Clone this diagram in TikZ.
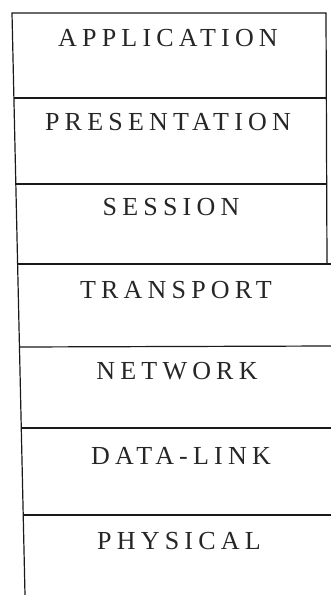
\documentclass[tikz,border=0pt]{standalone}
\usepackage{fontspec}
\setmainfont{Liberation Serif}[LetterSpace=20]
\begin{document}
\begin{tikzpicture}[x=1pt,y=-1pt,
  rule/.style={line width=1.2pt,black!90},
  layer/.style={inner sep=0pt,text=black!85,font=\fontsize{26}{30}\selectfont,anchor=center}]
\useasboundingbox (0,0) rectangle (331,595);
% corner and rule coordinates
\coordinate (tl) at (12,13);
\coordinate (tr) at (326,13);
\coordinate (rb) at (327,264);
\coordinate (bl) at (25,595);
\coordinate (l1) at (13.9,98);   \coordinate (r1) at (326.5,98);
\coordinate (l2) at (15.8,184);  \coordinate (r2) at (327,184);
\coordinate (l3) at (17.6,264);  \coordinate (r3) at (331,264);
\coordinate (l4) at (19.5,347);  \coordinate (r4) at (331,346);
\coordinate (l5) at (21.3,428);  \coordinate (r5) at (331,428);
\coordinate (l6) at (23.3,515);  \coordinate (r6) at (331,515);
% frame
\draw[rule] (bl) -- (tl) -- (tr) -- (rb);
\draw[rule] (l1) -- (r1);
\draw[rule] (l2) -- (r2);
\draw[rule] (l3) -- (r3);
\draw[rule] (l4) -- (r4);
\draw[rule] (l5) -- (r5);
\draw[rule] (l6) -- (r6);
% labels
\node[layer] (app)  at (168,38)  {APPLICATION};
\node[layer] (pres) at (168,122) {PRESENTATION};
\node[layer] (sess) at (171,207) {SESSION};
\node[layer] (tran) at (176,290) {TRANSPORT};
\node[layer] (net)  at (177,371) {NETWORK};
\node[layer] (dl)   at (181,456) {DATA-LINK};
\node[layer] (phy)  at (179,541) {PHYSICAL};
\end{tikzpicture}
\end{document}
